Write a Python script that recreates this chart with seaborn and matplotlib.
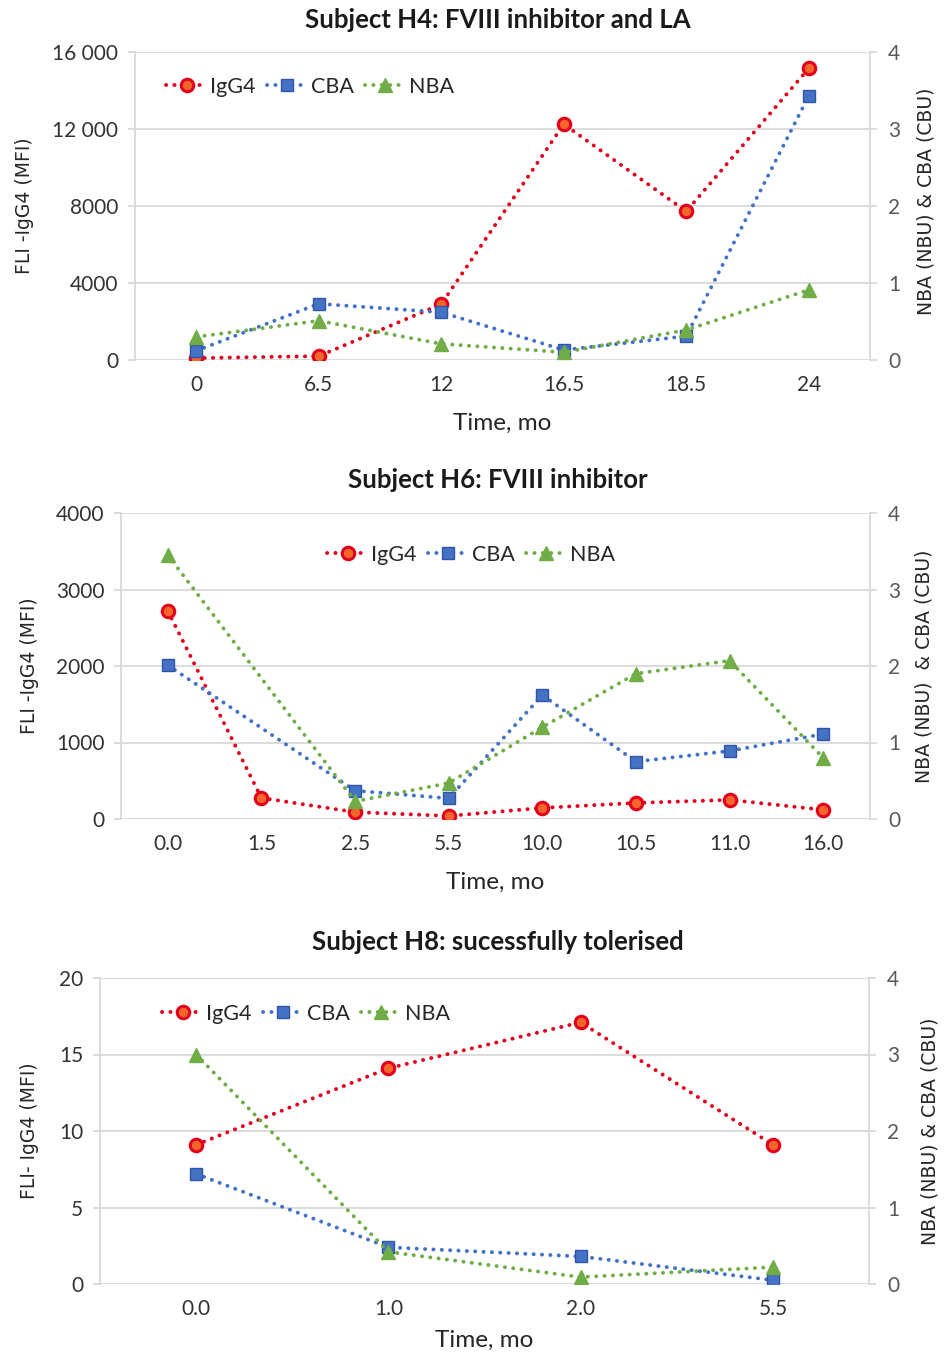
import numpy as np
import pandas as pd
import matplotlib
matplotlib.use("Agg")
import matplotlib.pyplot as plt
import seaborn as sns
from matplotlib.lines import Line2D

# ---------------- data ----------------
h4_title = "Subject H4: FVIII inhibitor and LA"
h4_time = ["0", "6.5", "12", "16.5", "18.5", "24"]
h4_igg4 = [100, 200, 2900, 12250, 7720, 15150]
h4_cba = [0.12, 0.73, 0.62, 0.13, 0.31, 3.43]
h4_nba = [0.30, 0.51, 0.21, 0.10, 0.39, 0.91]
h4_left_ticks = [0, 4000, 8000, 12000, 16000]
h4_left_labels = ["0", "4000", "8000", "12 000", "16 000"]

h6_title = "Subject H6: FVIII inhibitor"
h6_time = ["0.0", "1.5", "2.5", "5.5", "10.0", "10.5", "11.0", "16.0"]
h6_igg4 = [2720, 275, 90, 40, 145, 210, 250, 120]
h6_cba = [2.01, np.nan, 0.37, 0.27, 1.62, 0.75, 0.89, 1.11]
h6_nba = [3.45, np.nan, 0.23, 0.47, 1.20, 1.90, 2.07, 0.80]
h6_left_ticks = [0, 1000, 2000, 3000, 4000]
h6_left_labels = ["0", "1000", "2000", "3000", "4000"]

h8_title = "Subject H8: sucessfully tolerised"
h8_time = ["0.0", "1.0", "2.0", "5.5"]
h8_igg4 = [9.1, 14.1, 17.1, 9.1]
h8_cba = [1.44, 0.48, 0.36, 0.05]
h8_nba = [3.00, 0.42, 0.09, 0.22]
h8_left_ticks = [0, 5, 10, 15, 20]
h8_left_labels = ["0", "5", "10", "15", "20"]

right_ticks = [0, 1, 2, 3, 4]
right_labels = ["0", "1", "2", "3", "4"]
series_names = ["IgG4", "CBA", "NBA"]

# ---------------- style ----------------
sns.set_theme(style="white")
plt.rcParams["font.family"] = ["Lato", "DejaVu Sans"]

W, H = 945, 1355
fig = plt.figure(figsize=(W / 100, H / 100), dpi=100)

RED, RED_FACE = "#E3001B", "#F2662E"
BLUE, BLUE_EDGE = "#4472C4", "#2F55A4"
GREEN = "#70AD47"
GRID = "#D9D9D9"
DOT = (0, (0.05, 2.1))
LW = 2.8

styles = {
    "IgG4": dict(color=RED, marker="o", markersize=9, mfc=RED_FACE, mec=RED, mew=2.2),
    "CBA": dict(color=BLUE, marker="s", markersize=9, mfc=BLUE, mec=BLUE_EDGE, mew=1.0),
    "NBA": dict(color=GREEN, marker="^", markersize=10, mfc=GREEN, mec=GREEN, mew=1.0),
}


def rect(l, r, t, b):
    return [l / W, 1 - b / H, (r - l) / W, (b - t) / H]


def panel(box, title, title_y, times, igg4, cba, nba, lticks, llabels,
          ylabel_left, ylabel_right, leg_xy, xlab_y, lx, rx, ry_off):
    ax = fig.add_axes(rect(*box))
    ax2 = ax.twinx()
    n = len(times)
    df = pd.DataFrame({"pos": np.arange(n), "IgG4": igg4, "CBA": cba, "NBA": nba})

    d = df.dropna(subset=["IgG4"])
    sns.lineplot(data=d, x="pos", y="IgG4", ax=ax, sort=False, lw=LW,
                 linestyle=DOT, dash_capstyle="round", **styles["IgG4"])
    for name in ["CBA", "NBA"]:
        d = df.dropna(subset=[name])
        sns.lineplot(data=d, x="pos", y=name, ax=ax2, sort=False, lw=LW,
                     linestyle=DOT, dash_capstyle="round", **styles[name])

    ax.set_xlim(-0.5, n - 0.5)
    ax.set_ylim(lticks[0], lticks[-1])
    ax2.set_ylim(right_ticks[0], right_ticks[-1])
    ax.set_xticks(np.arange(n))
    ax.set_xticklabels(times)
    ax.set_yticks(lticks)
    ax.set_yticklabels(llabels)
    ax2.set_yticks(right_ticks)
    ax2.set_yticklabels(right_labels)
    ax.set_xlabel("")
    ax.set_ylabel("")
    ax2.set_ylabel("")

    ax.grid(axis="y", color=GRID, lw=1.3)
    ax.grid(axis="x", visible=False)
    ax2.grid(False)
    for a in (ax, ax2):
        for s in ["top", "bottom", "left", "right"]:
            a.spines[s].set_visible(False)
    ax.spines["left"].set_visible(True)
    ax.spines["left"].set_color(GRID)
    ax.spines["left"].set_linewidth(1.3)
    ax2.spines["right"].set_visible(True)
    ax2.spines["right"].set_color(GRID)
    ax2.spines["right"].set_linewidth(1.3)

    ax.tick_params(axis="y", which="both", left=True, length=5, width=1.3,
                   color=GRID, pad=7, labelsize=15, labelcolor="#333333")
    ax.tick_params(axis="x", bottom=False, length=0, pad=11, labelsize=15,
                   labelcolor="#333333")
    ax2.tick_params(axis="y", right=True, length=5, width=1.3, color=GRID,
                    pad=8, labelsize=15, labelcolor="#595959")

    fig.text(498 / W, 1 - title_y / H, title, ha="center", va="center",
             fontsize=18.5, fontweight="bold", color="#1a1a1a")
    cx = (box[0] + box[1]) / 2
    fig.text(cx / W, 1 - xlab_y / H, "Time, mo", ha="center", va="center",
             fontsize=17.5, color="#262626")
    cy = (box[2] + box[3]) / 2
    fig.text(lx / W, 1 - cy / H, ylabel_left, rotation=90, ha="center",
             va="center", fontsize=13.5, family="DejaVu Sans", color="#262626")
    fig.text(rx / W, 1 - (cy + ry_off) / H, ylabel_right, rotation=90, ha="center",
             va="center", fontsize=13.5, family="DejaVu Sans", color="#262626")

    handles = [Line2D([], [], lw=LW, linestyle=DOT, dash_capstyle="round",
                      **styles[nm]) for nm in series_names]
    fig.legend(handles, series_names, loc="center",
               bbox_to_anchor=(leg_xy[0] / W, 1 - leg_xy[1] / H),
               bbox_transform=fig.transFigure, ncol=3, frameon=False,
               fontsize=15.5, handlelength=1.9, handletextpad=0.15,
               columnspacing=0.5, markerscale=1.0)
    return ax, ax2


panel((135, 870, 52, 360), h4_title, 20, h4_time, h4_igg4, h4_cba, h4_nba,
      h4_left_ticks, h4_left_labels, "FLI -IgG4 (MFI)", "NBA (NBU) & CBA (CBU)",
      (310, 87), 423, 25, 926, -5)
panel((121, 870, 513, 819), h6_title, 480, h6_time, h6_igg4, h6_cba, h6_nba,
      h6_left_ticks, h6_left_labels, "FLI -IgG4 (MFI)", "NBA (NBU)  & CBA (CBU)",
      (471, 555), 882, 30, 924, 0)
panel((100, 869, 978, 1284), h8_title, 942, h8_time, h8_igg4, h8_cba, h8_nba,
      h8_left_ticks, h8_left_labels, "FLI- IgG4 (MFI)", "NBA (NBU) & CBA (CBU)",
      (306, 1014), 1340, 30, 930, 0)

fig.savefig("out.png", dpi=100)
